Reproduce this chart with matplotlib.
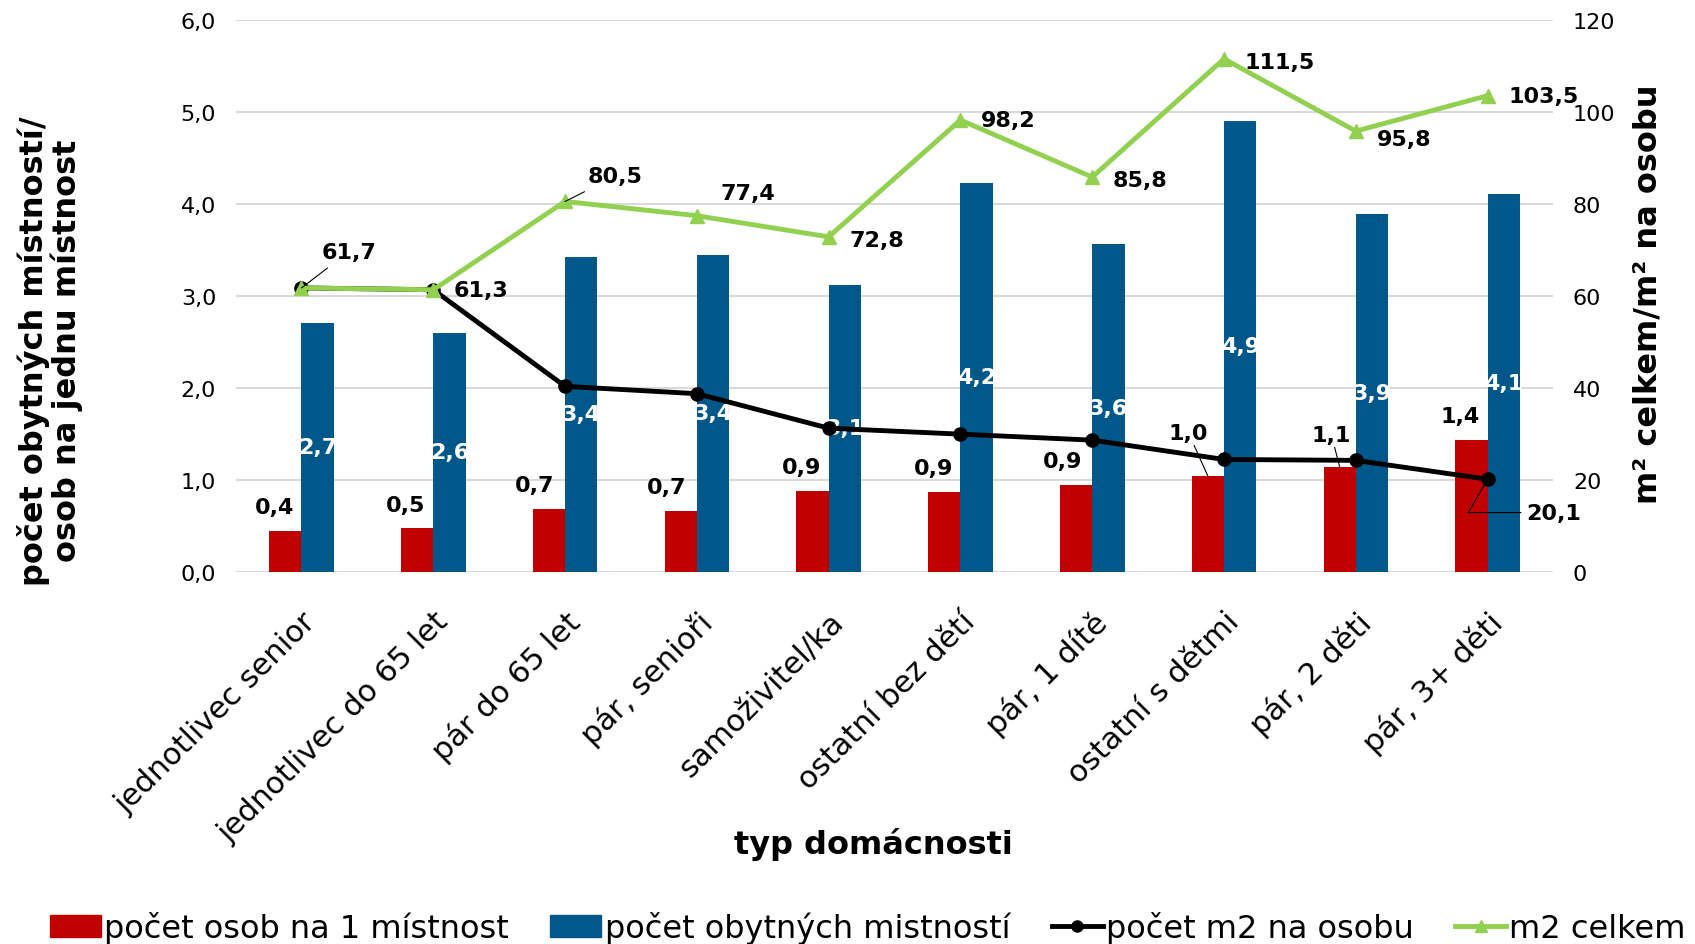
import numpy as np
import matplotlib.pyplot as plt
from matplotlib.ticker import FuncFormatter
from matplotlib.patches import Patch
from matplotlib.lines import Line2D

# data
kategorie = ['jednotlivec senior', 'jednotlivec do 65 let', 'pár do 65 let', 'pár, senioři',
             'samoživitel/ka', 'ostatní bez dětí', 'pár, 1 dítě', 'ostatní s dětmi',
             'pár, 2 děti', 'pár, 3+ děti']
osob_na_mistnost = [0.44, 0.47, 0.68, 0.66, 0.88, 0.87, 0.94, 1.04, 1.14, 1.43]
pocet_mistnosti = [2.70, 2.60, 3.42, 3.44, 3.12, 4.23, 3.56, 4.90, 3.89, 4.11]
m2_na_osobu = [61.7, 61.3, 40.3, 38.7, 31.2, 29.9, 28.6, 24.4, 24.2, 20.1]
m2_celkem = [61.7, 61.3, 80.5, 77.4, 72.8, 98.2, 85.8, 111.5, 95.8, 103.5]

RED = '#C00000'
BLUE = '#00578A'
GREEN = '#92D050'

plt.rcParams['font.family'] = 'DejaVu Sans'


def cz(v, nd=1):
    return f'{v:.{nd}f}'.replace('.', ',')


fig = plt.figure(figsize=(16.95, 9.45), dpi=100)
ax = fig.add_axes([0.139, 0.394, 0.7775, 0.584])
ax2 = ax.twinx()

x = np.arange(len(kategorie))
w = 0.245
ax.bar(x - w / 2, osob_na_mistnost, w, color=RED, zorder=2)
ax.bar(x + w / 2, pocet_mistnosti, w, color=BLUE, zorder=2)

ax.set_ylim(0, 6)
ax.set_xlim(-0.5, len(kategorie) - 0.5)
ax.set_yticks(np.arange(0, 7, 1))
ax.yaxis.set_major_formatter(FuncFormatter(lambda v, p: cz(v)))
ax.grid(axis='y', color='#D9D9D9', linewidth=1.5, zorder=0)
ax.set_axisbelow(True)
for s in ax.spines.values():
    s.set_visible(False)
for s in ax2.spines.values():
    s.set_visible(False)
ax.tick_params(axis='both', length=0)
ax.tick_params(axis='y', labelsize=16, pad=14)
ax.set_xticks(x)
ax.set_xticklabels(kategorie, rotation=45, ha='right', rotation_mode='anchor', fontsize=22)
ax.tick_params(axis='x', pad=25)

# bar labels
red_dy = [10, 10, 10, 10, 10, 10, 10, 24, 16, 10]
red_dx = [-8, -8, -10, -10, -8, -8, -10, -14, -6, -8]
for i, v in enumerate(osob_na_mistnost):
    ax.annotate(cz(v), xy=(x[i] - w / 2, v), xytext=(red_dx[i], red_dy[i]),
                textcoords='offset points', ha='center', va='bottom',
                fontsize=16, fontweight='bold', zorder=5,
                arrowprops=dict(arrowstyle='-', color='black', lw=0.8,
                                shrinkA=0, shrinkB=0) if red_dy[i] > 12 else None)
for i, v in enumerate(pocet_mistnosti):
    ax.text(x[i] + w / 2, v / 2, cz(v), ha='center', va='center', color='white',
            fontsize=16, fontweight='bold', zorder=3)

# lines on secondary axis
ax2.plot(x, m2_na_osobu, color='black', lw=3.5, marker='o', markersize=9.5, zorder=4,
         label='počet m2 na osobu')
ax2.plot(x, m2_celkem, color=GREEN, lw=3.5, marker='^', markersize=10, zorder=5,
         label='m2 celkem')
ax2.set_ylim(0, 120)
ax2.set_yticks(np.arange(0, 121, 20))
ax2.tick_params(axis='y', length=0, labelsize=16, pad=14)

# line labels
g_off = [(34, 26), (15, 0), (36, 18), (17, 16), (15, -2), (15, 0), (15, -2), (15, -2), (15, -6), (15, 0)]
for i, v in enumerate(m2_celkem):
    dx, dy = g_off[i]
    lead = i in (0, 2)
    ax2.annotate(cz(v), xy=(x[i], v), xytext=(dx, dy), textcoords='offset points',
                 ha='left' if not lead else 'center', va='center',
                 fontsize=16, fontweight='bold', zorder=6,
                 arrowprops=dict(arrowstyle='-', color='black', lw=0.8,
                                 shrinkA=4, shrinkB=0) if lead else None)
ax2.annotate(cz(m2_na_osobu[-1]), xy=(x[-1], m2_na_osobu[-1]), xytext=(28, -24),
             textcoords='offset points', ha='left', va='center', fontsize=16,
             fontweight='bold', zorder=6,
             arrowprops=dict(arrowstyle='-', color='black', lw=0.8, shrinkA=2, shrinkB=0,
                             connectionstyle='angle,angleA=0,angleB=60'))

# axis titles
fig.text(50 / 1695, 1 - 351 / 945, 'počet obytných místností/\nosob na jednu místnost',
         rotation=90, ha='center', va='center', multialignment='center',
         fontsize=23, fontweight='bold', linespacing=1.05)
fig.text(1648 / 1695, 1 - 294 / 945, 'm² celkem/m² na osobu', rotation=90,
         ha='center', va='center', fontsize=23, fontweight='bold')
fig.text(873 / 1695, 1 - 845 / 945, 'typ domácnosti', ha='center', va='center',
         fontsize=23, fontweight='bold')

# legend
handles = [Patch(color=RED), Patch(color=BLUE),
           Line2D([], [], color='black', lw=3.5, marker='o', markersize=8),
           Line2D([], [], color=GREEN, lw=3.5, marker='^', markersize=8)]
labels = ['počet osob na 1 místnost', 'počet obytných mistností', 'počet m2 na osobu', 'm2 celkem']
fig.legend(handles, labels, loc='center', bbox_to_anchor=(0.512, 0.017), ncol=4,
           frameon=False, fontsize=23, handlelength=1.6, handletextpad=0.1,
           columnspacing=1.3)

fig.savefig('out.png', dpi=100)
